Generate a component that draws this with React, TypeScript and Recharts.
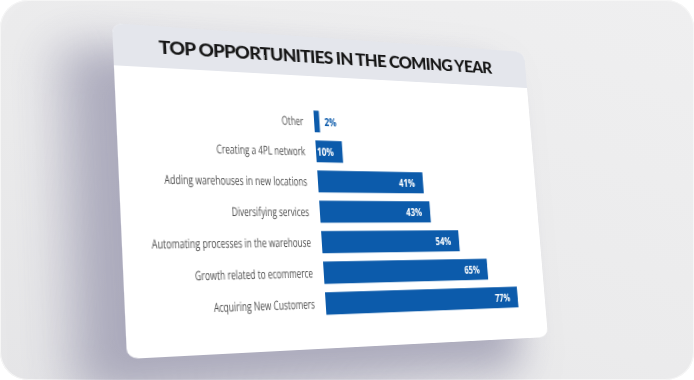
import { BarChart, Bar, XAxis, YAxis, LabelList } from 'recharts';

const categories = [
  'Other',
  'Creating a 4PL network',
  'Adding warehouses in new locations',
  'Diversifying services',
  'Automating processes in the warehouse',
  'Growth related to ecommerce',
  'Acquiring New Customers',
];
const shares = [2, 10, 41, 43, 54, 65, 77];
const chartTitle = 'TOP OPPORTUNITIES IN THE COMING YEAR';

const data = categories.map((name, i) => ({ name, value: shares[i] }));

const CARD_W = 430;
const CARD_H = 340;
const HEADER_H = 44;
const BLUE = '#0c5bab';
const LABEL_FONT = '"Open Sans", sans-serif';
const NARROW = 0.62; // the labels use a condensed face

// maps the flat card onto the tilted quad seen in the picture
function quadTransform(w: number, h: number, q: number[][]) {
  const [[x0, y0], [x1, y1], [x2, y2], [x3, y3]] = q;
  const dx1 = x1 - x2, dx2 = x3 - x2, dx3 = x0 - x1 + x2 - x3;
  const dy1 = y1 - y2, dy2 = y3 - y2, dy3 = y0 - y1 + y2 - y3;
  const den = dx1 * dy2 - dx2 * dy1;
  const g = (dx3 * dy2 - dx2 * dy3) / den;
  const hh = (dx1 * dy3 - dx3 * dy1) / den;
  const a = x1 - x0 + g * x1, b = x3 - x0 + hh * x3;
  const d = y1 - y0 + g * y1, e = y3 - y0 + hh * y3;
  const m = [a / w, d / w, 0, g / w, b / h, e / h, 0, hh / h, 0, 0, 1, 0, x0, y0, 0, 1];
  return `matrix3d(${m.join(',')})`;
}

const cardCorners = [
  [112, 23],
  [524, 52],
  [548, 337],
  [127, 359],
];

const CategoryTick = (props: any) => {
  const { x, y, payload } = props;
  return (
    <g transform={`translate(${x},${y}) scale(${NARROW},1)`}>
      <text x={0} y={0} dy={4.5} textAnchor="end" fill="#4a4a4a" fontSize={13} fontFamily={LABEL_FONT}>
        {payload.value}
      </text>
    </g>
  );
};

const ValueLabel = (props: any) => {
  const { x, y, width, height, value } = props;
  const small = value < 5;
  const lx = small ? x + width + 5 : x + width - 9;
  return (
    <g transform={`translate(${lx},${y + height / 2}) scale(0.68,1)`}>
      <text
        x={0}
        y={0}
        dy={4.5}
        textAnchor={small ? 'start' : 'end'}
        fill={small ? BLUE : '#ffffff'}
        fontSize={12.5}
        fontWeight={700}
        fontFamily={LABEL_FONT}
      >
        {value}%
      </text>
    </g>
  );
};

export default function App() {
  return (
    <div style={{ position: 'fixed', left: 0, top: 0, width: 694, height: 380, background: '#fff' }}>
      <div
        style={{
          position: 'absolute',
          left: 0,
          top: 0,
          width: 694,
          height: 380,
          borderRadius: 28,
          background: 'linear-gradient(200deg, #efeff0 0%, #ebebec 60%, #e6e6e8 100%)',
          overflow: 'hidden',
          boxShadow: 'inset 0 0 0 1px #f6f6f6',
        }}
      >
        <div
          style={{
            position: 'absolute',
            left: 0,
            top: 0,
            width: CARD_W,
            height: CARD_H,
            transformOrigin: '0 0',
            transform: quadTransform(CARD_W, CARD_H, cardCorners),
            background: '#ffffff',
            borderRadius: 10,
            boxShadow: '-40px 30px 45px 5px rgba(120,118,150,0.55)',
            overflow: 'hidden',
          }}
        >
          <div
            style={{
              height: HEADER_H,
              background: '#e4e6ec',
              display: 'flex',
              alignItems: 'center',
              justifyContent: 'center',
              fontFamily: 'Lato, sans-serif',
              fontWeight: 900,
              fontSize: 18,
              letterSpacing: -0.8,
              color: '#161616',
            }}
          >
            {chartTitle}
          </div>
          <BarChart
            width={CARD_W}
            height={CARD_H - HEADER_H}
            data={data}
            layout="vertical"
            margin={{ top: 34, right: 24, bottom: 31, left: 10 }}
            barCategoryGap="13%"
          >
            <XAxis type="number" domain={[0, 80]} hide />
            <YAxis
              type="category"
              dataKey="name"
              width={178}
              axisLine={false}
              tickLine={false}
              tickMargin={5}
              interval={0}
              tick={CategoryTick}
            />
            <Bar dataKey="value" fill={BLUE} isAnimationActive={false}>
              <LabelList dataKey="value" content={ValueLabel} />
            </Bar>
          </BarChart>
        </div>
      </div>
    </div>
  );
}
